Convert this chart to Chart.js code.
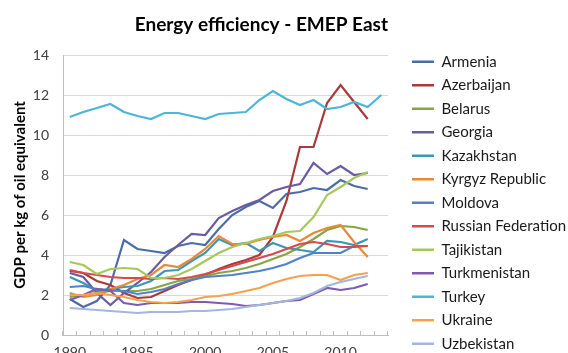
<!DOCTYPE html>
<html><head><meta charset="utf-8">
<script src="https://cdn.jsdelivr.net/npm/chart.js@4"></script>
<style>html,body{margin:0;padding:0;overflow:hidden;background:#fff}#wrap{width:568px;height:370px}</style>
</head><body><div id="wrap"><canvas id="c" width="568" height="370"></canvas></div>
<script>
const years = ['1990','1991','1992','1993','1994','1995','1996','1997','1998','1999','2000','2001','2002','2003','2004','2005','2006','2007','2008','2009','2010','2011','2012','2013'];
const xLabelYears = ['1990','1995','2000','2005','2010'];
const yTicks = [0,2,4,6,8,10,12,14];

const armenia      = [1.8,1.4,1.7,2.5,4.75,4.3,4.2,4.1,4.45,4.6,4.5,5.3,6.0,6.4,6.7,6.35,7.05,7.15,7.35,7.25,7.75,7.45,7.3];
const azerbaijan   = [3.2,3.1,2.7,2.5,2.1,1.85,1.9,2.2,2.5,2.75,3.0,3.3,3.55,3.75,4.0,4.9,6.7,9.4,9.4,11.6,12.5,11.65,10.8];
const belarus      = [1.9,2.0,2.1,2.2,2.2,2.2,2.3,2.5,2.7,2.8,2.95,3.1,3.2,3.35,3.55,3.8,4.05,4.4,4.8,5.25,5.45,5.4,5.25];
const georgia      = [3.1,2.9,2.1,1.5,2.1,2.6,3.15,3.9,4.5,5.05,5.0,5.85,6.2,6.5,6.75,7.2,7.4,7.55,8.6,8.05,8.45,8.0,8.1];
const kazakhstan   = [2.9,2.6,2.2,2.3,2.4,2.45,2.7,3.2,3.25,3.7,4.1,4.8,4.5,4.6,4.2,4.6,4.35,4.25,4.15,4.7,4.65,4.5,4.8];
const kyrgyz       = [2.1,1.9,2.0,2.3,2.5,2.8,3.0,3.5,3.4,3.8,4.3,4.95,4.55,4.55,4.75,4.9,5.0,4.7,5.1,5.35,5.5,4.65,3.9];
const moldova      = [2.4,2.45,2.3,2.25,2.2,2.05,2.15,2.3,2.55,2.75,2.9,2.95,3.0,3.1,3.2,3.35,3.55,3.85,4.1,4.1,4.1,4.45,4.45];
const russia       = [3.25,3.1,3.0,2.9,2.85,2.85,2.8,2.85,2.8,2.9,3.05,3.25,3.45,3.65,3.85,4.05,4.3,4.55,4.65,4.55,4.4,4.4,4.45];
const tajikistan   = [3.65,3.5,3.05,3.3,3.35,3.3,2.85,2.85,3.0,3.3,3.7,4.1,4.4,4.6,4.8,4.95,5.15,5.2,5.9,7.0,7.4,7.85,8.15];
const turkmenistan = [1.75,2.0,2.3,2.2,1.6,1.5,1.6,1.6,1.6,1.65,1.65,1.6,1.55,1.45,1.5,1.6,1.7,1.75,2.05,2.35,2.25,2.35,2.55];
const turkey       = [10.9,11.15,11.35,11.55,11.15,10.95,10.8,11.1,11.1,10.95,10.8,11.05,11.1,11.15,11.75,12.2,11.8,11.5,11.75,11.3,11.4,11.65,11.4,12.0];
const ukraine      = [2.0,2.0,2.1,2.0,1.9,1.75,1.65,1.6,1.65,1.75,1.9,1.95,2.05,2.2,2.35,2.6,2.8,2.95,3.0,3.0,2.75,3.0,3.1];
const uzbekistan   = [1.35,1.3,1.25,1.2,1.15,1.1,1.15,1.15,1.15,1.2,1.2,1.25,1.3,1.4,1.5,1.6,1.7,1.85,2.1,2.45,2.65,2.8,2.95];

const seriesNames = ['Armenia','Azerbaijan','Belarus','Georgia','Kazakhstan','Kyrgyz Republic','Moldova','Russian Federation','Tajikistan','Turkmenistan','Turkey','Ukraine','Uzbekistan'];
const seriesValues = [armenia,azerbaijan,belarus,georgia,kazakhstan,kyrgyz,moldova,russia,tajikistan,turkmenistan,turkey,ukraine,uzbekistan];
const seriesColors = ['#4A6DA7','#A83A3A','#86A544','#6B5A9E','#3A97B4','#E8893A','#4E82CB','#D8484E','#A5C85C','#7C5BB0','#4BB6D8','#F6A14C','#A3B6DF'];

const ctx = document.getElementById('c').getContext('2d');
new Chart(ctx, {
  type: 'line',
  data: {
    labels: years,
    datasets: seriesNames.map((n, i) => ({
      label: n, data: seriesValues[i], borderColor: seriesColors[i], backgroundColor: seriesColors[i],
      borderWidth: 2.2, pointRadius: 0, pointHoverRadius: 0, tension: 0, fill: false, order: -i
    }))
  },
  options: {
    responsive: false, animation: false, devicePixelRatio: 1,
    layout: { padding: { top: 5, left: 0, right: 0, bottom: 10.3 } },
    plugins: {
      title: {
        display: true, text: 'Energy efficiency - EMEP East', fullSize: false, align: 'end', color: '#000',
        font: { family: 'Lato', size: 19, weight: 'bold', lineHeight: 1.2 }, padding: { top: 8.1, bottom: 19.1 }
      },
      legend: {
        position: 'right', align: 'end', maxWidth: 164.5,
        labels: {
          font: { family: 'Lato', size: 15, lineHeight: 1 }, color: '#1a1a1a', boxWidth: 22, boxHeight: 2.5, padding: 8.5,
          sort: (a, b) => a.datasetIndex - b.datasetIndex,
          generateLabels(chart) {
            return Chart.defaults.plugins.legend.labels.generateLabels(chart).map(l => Object.assign(l, { lineWidth: 0, fillStyle: l.strokeStyle }));
          }
        }
      },
      tooltip: { enabled: false }
    },
    scales: {
      x: {
        type: 'category', offset: true,
        grid: { display: true, drawOnChartArea: false, drawTicks: true, tickLength: -4, offset: true, color: '#BFBFBF' },
        border: { display: true, color: '#BFBFBF' },
        ticks: {
          autoSkip: false, maxRotation: 0, minRotation: 0, padding: 13, color: '#404040', font: { family: 'Lato', size: 14 },
          callback(v, i) { const y = years[i]; return xLabelYears.includes(y) ? y : ''; }
        },
        afterFit(s) { s.height = 24.7; }
      },
      y: {
        min: 0, max: 14,
        afterBuildTicks(s) { s.ticks = yTicks.map(v => ({ value: v })); },
        ticks: { padding: 14, color: '#404040', font: { family: 'Lato', size: 14 } },
        grid: { color: '#D9D9D9', drawTicks: false },
        border: { display: true, color: '#BFBFBF' },
        title: { display: true, text: 'GDP per kg of oil equivalent', color: '#000', font: { family: 'Lato', size: 15, weight: 'bold', lineHeight: 1.2 }, padding: { top: 11, bottom: 0 } },
        afterFit(s) { s.width = 63; }
      },
      gap: {
        type: 'linear', position: 'right', display: true,
        grid: { display: false }, border: { display: false }, ticks: { display: false },
        afterFit(s) { s.width = 15.5; }
      }
    }
  }
});
</script>
</body></html>
